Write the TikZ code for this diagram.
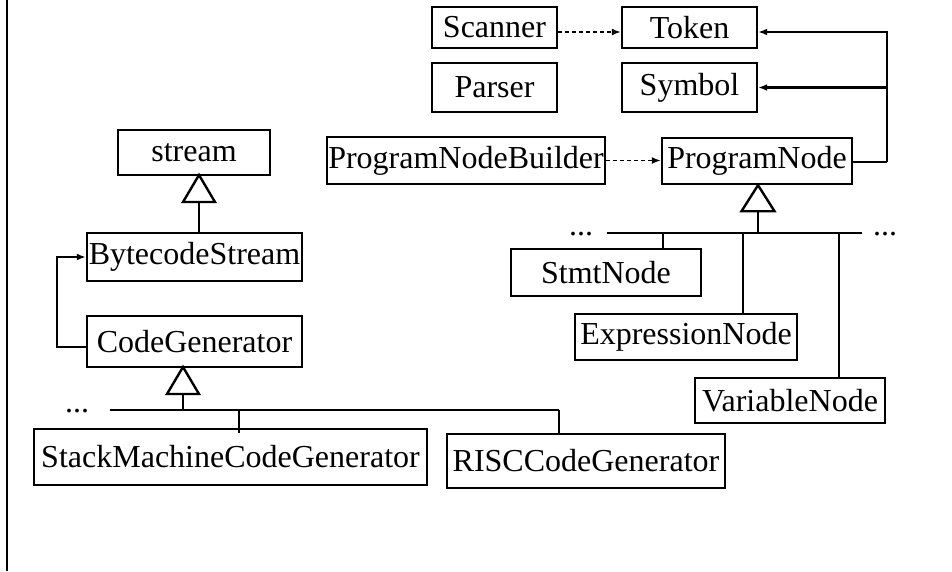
\documentclass[tikz,border=0pt]{standalone}
\usepackage{fontspec}
\setmainfont{Liberation Serif}
\usetikzlibrary{arrows.meta,calc}

\tikzset{
  cls/.style={draw, line width=2.4pt, inner sep=0pt, minimum width=#1},
  dep/.style={line width=1.6pt, dash pattern=on 4pt off 3pt, -{Latex[length=9pt,width=7pt]}},
  assoc/.style={line width=2.4pt, -{Latex[length=9pt,width=7pt]}},
  wire/.style={line width=2.4pt},
  gen/.style={draw, line width=2.4pt, fill=white, line join=miter},
  dots/.style={inner sep=0pt, anchor=base}
}

\begin{document}
\begin{tikzpicture}[x=1pt, y=-1pt, font=\fontsize{32}{36}\selectfont]
\useasboundingbox (0,0) rectangle (952,571);

% frame rule on the left
\draw[wire] (7,0) coordinate (ruletop) -- (7,571) coordinate (rulebot);

% ---- front end classes ----
\node[cls=125pt, minimum height=41pt] (scanner) at (494.5,27.5) {Scanner};
\node[cls=135pt, minimum height=41pt] (token)   at (689.5,27.5) {Token};
\node[cls=125pt, minimum height=49pt] (parser)  at (494.5,87.5) {Parser};
\node[cls=135pt, minimum height=49pt] (symbol)  at (689.5,87.5) {Symbol};
\node[cls=278pt, minimum height=47pt] (pnb)     at (466,160.5)  {ProgramNodeBuilder};
\node[cls=190pt, minimum height=46pt] (pn)      at (757,161)    {ProgramNode};

\node[cls=190pt, minimum height=47pt] (stmt) at (606,272.5) {StmtNode};
\node[cls=222pt, minimum height=46pt] (expr) at (686,337)   {ExpressionNode};
\node[cls=190pt, minimum height=45pt] (var)  at (790,400.5) {VariableNode};

% ---- code generation classes ----
\node[cls=152pt, minimum height=45pt] (stream) at (194,152.5) {stream};
\node[cls=215pt, minimum height=48pt] (bcs)    at (194.5,257) {BytecodeStream};
\node[cls=215pt, minimum height=51pt] (cg)     at (194.5,341.5) {CodeGenerator};
\node[cls=393pt, minimum height=56pt] (smcg)   at (230.5,457) {StackMachineCodeGenerator};
\node[cls=278pt, minimum height=54pt] (risc)   at (586,461) {RISCCodeGenerator};

% dependencies
\coordinate (scanout) at ([yshift=-4.5pt]scanner.east);
\coordinate (tokin)   at ([yshift=-4.5pt]token.west);
\coordinate (tokref)  at ([yshift=-4.5pt]token.east);
\draw[dep] (scanout) -- (tokin);
\draw[dep] (pnb.east) -- (pnb.east -| pn.west);

% ProgramNode references Token and Symbol
\coordinate (pnr) at (887,162);
\draw[wire] (pn.east |- pnr) -- (pnr);
\draw[assoc] (pnr) -- (pnr |- tokref) -- (tokref);
\draw[assoc] (pnr |- symbol.east) -- (symbol.east);

% ProgramNode subclasses
\coordinate (pnbus) at (758,233);
\draw[wire] (pnbus) -- ++(0,-23);
\draw[gen] ([xshift=1pt]pn.south) -- ++(-16.5,26) -- ++(33,0) -- cycle;
\draw[wire] (607,233) coordinate (pnbusl) -- (862,233) coordinate (pnbusr);
\draw[wire] (663,233) coordinate (stmtdrop) -- (stmtdrop |- stmt.north);
\draw[wire] (743,233) coordinate (exprdrop) -- (exprdrop |- expr.north);
\draw[wire] (839,233) coordinate (vardrop) -- (vardrop |- var.north);
\node[dots] (pndotsl) at (581,235) {...};
\node[dots] (pndotsr) at (885,235) {...};

% stream <- BytecodeStream
\coordinate (stm) at (199,175);
\draw[wire] (stm |- bcs.north) -- ++(0,-31);
\draw[gen] (stm) -- ++(-16,27) -- ++(32,0) -- cycle;

% CodeGenerator uses BytecodeStream
\coordinate (cgout) at ([yshift=-5.5pt]cg.west);
\coordinate (cgl) at (57,347);
\draw[assoc] (cgout) -- (cgl) -- (cgl |- bcs.west) -- (bcs.west);

% CodeGenerator subclasses
\coordinate (cgm) at (183,367);
\draw[wire] (183,410) coordinate (cgbus) -- ++(0,-16);
\draw[gen] (cgm) -- ++(-16,27) -- ++(32,0) -- cycle;
\draw[wire] (110,410) coordinate (cgbusl) -- (559,410) coordinate (cgbusr);
\coordinate (smtop) at ([yshift=-5pt]smcg.north);
\draw[wire] (239,410) coordinate (smdrop) -- (smdrop |- smtop);
\draw[wire] (cgbusr) -- (cgbusr |- risc.north);
\node[dots] (cgdots) at (77,412) {...};
\end{tikzpicture}
\end{document}
